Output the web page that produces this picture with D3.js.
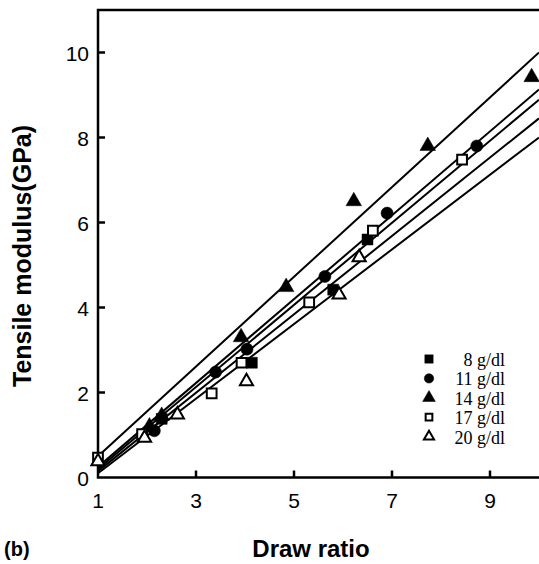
<!DOCTYPE html>
<html>
  <head>
    <meta charset="utf-8">
    <title>Tensile modulus vs draw ratio</title>
    <script src="https://d3js.org/d3.v7.min.js"></script>
  </head>
  <style>
    body { margin: 0; background: #fff; }
    svg { display: block; }
    .axisLine { stroke: #000; stroke-width: 2.5; fill: none; }
    .fit { stroke: #000; stroke-width: 2; fill: none; }
    .tickLabel { font-family: "Liberation Sans", Arial, sans-serif; font-size: 21px; }
    .title { font-family: "Liberation Sans", Arial, sans-serif; font-weight: bold; }
    .legendText { font-family: "Liberation Serif", "Times New Roman", serif; font-size: 18px; }
  </style>
  <body>
    <script type="text/javascript">
      var width = 539;
      var height = 564;

      // data: [draw ratio, modulus GPa]
      const series = ['8 g/dl', '11 g/dl', '14 g/dl', '17 g/dl', '20 g/dl'];
      const s8 = [[2.3, 1.38], [4.14, 2.7], [5.8, 4.42], [6.5, 5.6]];
      const s11 = [[2.15, 1.1], [3.4, 2.48], [4.04, 3.02], [5.63, 4.73], [6.9, 6.22], [8.73, 7.8]];
      const s14 = [[2.05, 1.2], [2.3, 1.45], [3.92, 3.3], [4.84, 4.48], [6.22, 6.5], [7.73, 7.8], [9.85, 9.42]];
      const s17 = [[1, 0.47], [1.9, 1.02], [3.32, 1.98], [3.93, 2.7], [5.31, 4.12], [6.61, 5.81], [8.43, 7.48]];
      const s20 = [[1, 0.38], [1.95, 0.93], [2.62, 1.48], [4.03, 2.26], [5.92, 4.3], [6.33, 5.18]];
      // fitted lines: value at draw ratio 1 and at 10
      const fitStart = [0.15, 0.25, 0.5, 0.2, 0.1];
      const fitEnd = [8.45, 9.13, 10.0, 8.89, 8.0];
      const xTicks = [1, 3, 5, 7, 9];
      const yTicks = [0, 2, 4, 6, 8, 10];

      const allPoints = [s8, s11, s14, s17, s20];
      const symbolType = [d3.symbolSquare, d3.symbolCircle, d3.symbolTriangle, d3.symbolSquare, d3.symbolTriangle];
      const filled = [true, true, true, false, false];

      const svg = d3.select('body').append('svg').attr('width', width).attr('height', height);
      const x = d3.scaleLinear().domain([1, 10]).range([98, 539]);
      const y = d3.scaleLinear().domain([0, 11]).range([477.5, 10]);

      // frame: left, top, bottom (right edge runs off the page)
      svg.append('path').attr('class', 'axisLine')
        .attr('d', `M${x(10)},${y(11)}H${x(1)}V${y(0)}H${x(10)}`);

      // inward ticks
      svg.selectAll('.yt').data(yTicks.slice(1)).enter().append('line')
        .attr('class', 'axisLine').attr('stroke-width', 2)
        .attr('x1', x(1)).attr('x2', x(1) + 7)
        .attr('y1', d => y(d)).attr('y2', d => y(d));
      svg.selectAll('.xt').data(xTicks.slice(1)).enter().append('line')
        .attr('class', 'axisLine').attr('stroke-width', 2)
        .attr('x1', d => x(d)).attr('x2', d => x(d))
        .attr('y1', y(0)).attr('y2', y(0) - 7);

      svg.selectAll('.yl').data(yTicks).enter().append('text')
        .attr('class', 'tickLabel').attr('text-anchor', 'end')
        .attr('x', 89).attr('y', d => y(d) + 8).text(d => d);
      svg.selectAll('.xl').data(xTicks).enter().append('text')
        .attr('class', 'tickLabel').attr('text-anchor', 'middle')
        .attr('x', d => x(d)).attr('y', 508).text(d => d);

      // fit lines
      svg.selectAll('.fit').data(fitStart).enter().append('line')
        .attr('class', 'fit')
        .attr('x1', x(1)).attr('y1', d => y(d))
        .attr('x2', x(10)).attr('y2', (d, i) => y(fitEnd[i]));

      // markers
      const pointSize = [120, 115, 105, 95, 75];
      allPoints.forEach(function (pts, i) {
        const sym = d3.symbol().type(symbolType[i]).size(pointSize[i]);
        svg.append('g').selectAll('path').data(pts).enter().append('path')
          .attr('d', sym)
          .attr('transform', d => `translate(${x(d[0])},${y(d[1])})`)
          .attr('fill', filled[i] ? '#000' : '#fff')
          .attr('stroke', '#000')
          .attr('stroke-width', filled[i] ? 0.5 : 2);
      });

      // legend
      const legend = svg.append('g');
      series.forEach(function (name, i) {
        const by = 366 + i * 19.4;
        const sym = d3.symbol().type(symbolType[i]).size(filled[i] ? 70 : 45);
        legend.append('path').attr('d', sym)
          .attr('transform', `translate(429,${by - 7})`)
          .attr('fill', filled[i] ? '#000' : '#fff')
          .attr('stroke', '#000')
          .attr('stroke-width', filled[i] ? 0.5 : 2);
        legend.append('text').attr('class', 'legendText')
          .attr('text-anchor', 'end').attr('x', 505).attr('y', by).text(name);
      });

      // axis titles
      svg.append('text').attr('class', 'title').attr('font-size', 25)
        .attr('text-anchor', 'middle')
        .attr('transform', 'translate(31,256) rotate(-90)')
        .text('Tensile modulus(GPa)');
      svg.append('text').attr('class', 'title').attr('font-size', 24)
        .attr('text-anchor', 'middle').attr('x', 311).attr('y', 557)
        .text('Draw ratio');
      svg.append('text').attr('class', 'title').attr('font-size', 20)
        .attr('x', 4).attr('y', 556).text('(b)');
    </script>
  </body>
</html>
